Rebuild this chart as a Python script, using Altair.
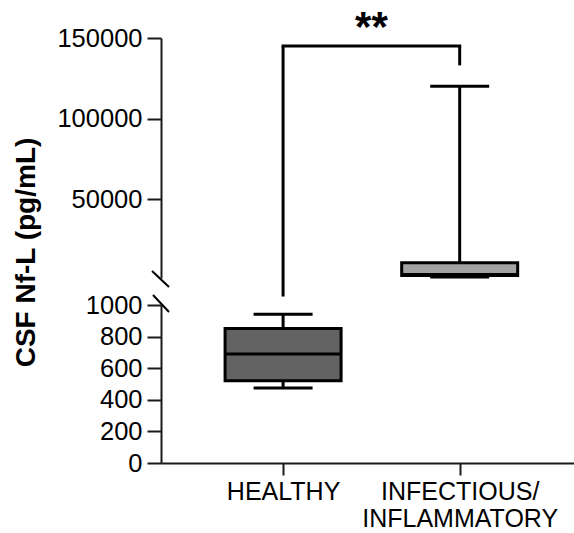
import json
import altair as alt
import pandas as pd

# ---- data ----
groups = ["HEALTHY", "INFECTIOUS/INFLAMMATORY"]
group_pos = [1, 2]
label_lines = [["HEALTHY"], ["INFECTIOUS/", "INFLAMMATORY"]]
whisker_low = [475, 1600]
q1 = [521, 2500]
median = [690, 3200]
q3 = [852, 10500]
whisker_high = [942, 120000]
box_fill = ["#636363", "#a3a3a3"]

lower_domain = [0, 1000]
upper_domain = [1000, 150000]
lower_ticks = [0, 200, 400, 600, 800, 1000]
upper_ticks = [50000, 100000, 150000]

bracket_x = [1, 2]
bracket_top = 145000
bracket_leg_end = [-10500, 133000]
stars = "**"
star_y = 156000

y_title = "CSF Nf-L (pg/mL)"
x_domain = [0.337, 2.619]

FONT = "Liberation Sans"

df = pd.DataFrame(dict(group=groups, pos=group_pos, lo=whisker_low, q1=q1,
                       med=median, q3=q3, hi=whisker_high, fill=box_fill))
bracket_df = pd.DataFrame(dict(x=[bracket_x[0]], x2=[bracket_x[1]], y=[bracket_top]))
legs_df = pd.DataFrame(dict(x=bracket_x, y=[bracket_top] * 2, y2=bracket_leg_end))
star_df = pd.DataFrame(dict(x=[sum(bracket_x) / 2], y=[star_y], t=[stars]))
one = pd.DataFrame(dict(k=[0]))

label_expr = "datum.value == {0} ? {1} : {2}".format(
    group_pos[0], json.dumps(label_lines[0][0]), json.dumps(label_lines[1]))

xscale = alt.Scale(domain=x_domain, nice=False, zero=False)


def panel(domain, ticks, show_x, show_title, keep):
    yscale = alt.Scale(domain=domain, nice=False, zero=False)
    yaxis = alt.Axis(values=ticks, format="d", tickSize=14, labelPadding=5,
                     labelFontSize=25.5, labelColor="black", labelFont=FONT,
                     domainColor="#1a1a1a", tickColor="#1a1a1a", domainWidth=2,
                     tickWidth=2, grid=False, labelLimit=0,
                     title=y_title if show_title else "",
                     titleFont=FONT, titleFontSize=28, titleFontWeight="bold",
                     titleColor="black", titleAngle=270, titleX=-135, titleY=214,
                     titleAlign="center", titleBaseline="middle")
    if show_x:
        xaxis = alt.Axis(values=group_pos, labelExpr=label_expr, tickSize=12,
                         labelPadding=4, labelFontSize=25, labelFont=FONT,
                         labelColor="black", labelLineHeight=27, labelLimit=0,
                         domainColor="#1a1a1a", tickColor="#1a1a1a", domainWidth=2,
                         tickWidth=2, grid=False, title=None, labelAngle=0)
    else:
        xaxis = None

    def X(field="pos"):
        return alt.X(f"{field}:Q", scale=xscale, axis=xaxis)

    def Y(field):
        return alt.Y(f"{field}:Q", scale=yscale, axis=yaxis)

    base = alt.Chart(df).transform_filter(keep)
    whisk = base.mark_rule(color="black", strokeWidth=3).encode(
        x=X(), y=Y("lo"), y2="hi:Q")
    box = base.mark_bar(size=116, stroke="black", strokeWidth=3).encode(
        x=X(), y=Y("q1"), y2="q3:Q", fill=alt.Fill("fill:N", scale=None))
    med = base.mark_tick(orient="horizontal", size=116, thickness=3, color="black",
                         opacity=1).encode(x=X(), y=Y("med"))
    cap_lo = base.mark_tick(orient="horizontal", size=59, thickness=3, color="black",
                            opacity=1).encode(x=X(), y=Y("lo"))
    cap_hi = base.mark_tick(orient="horizontal", size=59, thickness=3, color="black",
                            opacity=1).encode(x=X(), y=Y("hi"))
    layers = [whisk, box, med, cap_lo, cap_hi]
    return layers, X, Y


# upper panel
up_layers, UX, UY = panel(upper_domain, upper_ticks, False, True, "datum.q1 >= 1000")
hbar = alt.Chart(bracket_df).mark_rule(color="black", strokeWidth=3, strokeCap="square").encode(
    x=UX("x"), x2="x2:Q", y=UY("y"))
legs = alt.Chart(legs_df).mark_rule(color="black", strokeWidth=3).encode(
    x=UX("x"), y=UY("y"), y2="y2:Q")
star_txt = alt.Chart(star_df).mark_text(font=FONT, fontSize=42, fontWeight="bold",
                                        color="black", baseline="middle").encode(
    x=UX("x"), y=UY("y"), text="t:N")
brk_up = alt.Chart(one).mark_rule(color="black", strokeWidth=2).encode(
    x=alt.value(-9), x2=alt.value(8), y=alt.value(233), y2=alt.value(249))
upper = alt.layer(*up_layers, legs, hbar, star_txt, brk_up).properties(width=413, height=240)

# lower panel
lo_layers, LX, LY = panel(lower_domain, lower_ticks, True, False, "datum.q3 <= 1000")
brk_lo = alt.Chart(one).mark_rule(color="black", strokeWidth=2).encode(
    x=alt.value(-8), x2=alt.value(8), y=alt.value(-10), y2=alt.value(7))
lower = alt.layer(*lo_layers, brk_lo).properties(width=413, height=158)

chart = alt.vconcat(upper, lower, spacing=27, bounds="flush").resolve_scale(
    y="independent").properties(
    padding={"left": 12, "top": 7, "right": 0, "bottom": 0}
).configure(font=FONT, view=alt.ViewConfig(stroke=None))

chart.save("out.html", embed_options={"renderer": "svg", "actions": False})
